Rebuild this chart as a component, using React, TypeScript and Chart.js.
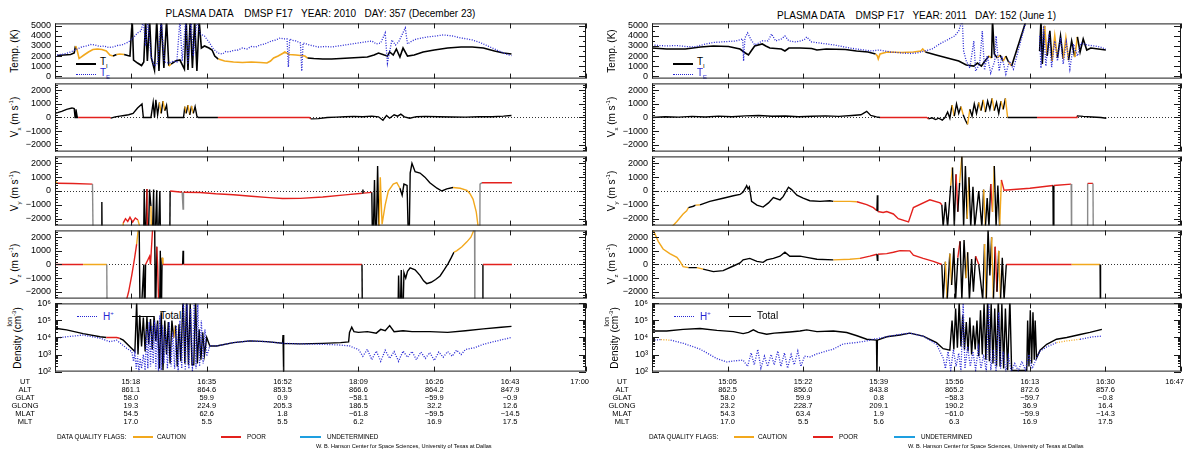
import React, { useEffect, useRef } from "react";
import { Chart, registerables } from "chart.js";

Chart.register(...registerables);

// ---- data (time in minutes from the left frame edge; flag 0=good 1=caution 2=poor 3=grey) ----

type P3 = [number, number | null, number];
type P2 = [number, number | null];

const L_UT = ["15:18", "16:35", "16:52", "18:09", "16:26", "16:43", "17:00"];
const L_ALT = ["861.1", "864.6", "853.5", "866.6", "864.2", "847.9"];
const L_GLAT = ["58.0", "59.9", "0.9", "\u221258.1", "\u221259.9", "\u22120.9"];
const L_GLONG = ["19.3", "224.9", "205.3", "186.5", "32.2", "12.6"];
const L_MLAT = ["54.5", "62.6", "1.8", "\u221261.8", "\u221259.5", "\u221214.5"];
const L_MLT = ["17.0", "5.5", "5.5", "6.2", "16.9", "17.5"];

const R_UT = ["15:05", "15:22", "15:39", "15:56", "16:13", "16:30", "16:47"];
const R_ALT = ["862.5", "856.0", "843.8", "865.2", "872.6", "857.6"];
const R_GLAT = ["58.0", "59.9", "0.8", "\u221258.3", "\u221259.7", "\u22120.8"];
const R_GLONG = ["23.2", "228.7", "209.1", "190.2", "36.9", "16.4"];
const R_MLAT = ["54.3", "63.4", "1.9", "\u221261.0", "\u221259.9", "\u221214.3"];
const R_MLT = ["17.0", "5.5", "5.6", "6.3", "16.9", "17.5"];

const ROW_NAMES = ["UT", "ALT", "GLAT", "GLONG", "MLAT", "MLT"];
const TIME_TICKS = [0, 17, 34, 51, 68, 85, 102, 119];
const TEMP_TICKS = [0, 1000, 2000, 3000, 4000, 5000];
const VEL_TICKS = [-2000, -1000, 0, 1000, 2000];
const DEN_TICKS = [1e2, 1e3, 1e4, 1e5, 1e6];

// Left orbit: 2010 day 357
const L_TI: P3[] = [
  [0.5, 2050, 0], [2, 2100, 0], [3.5, 2150, 0], [4.3, 2300, 0], [4.6, 3000, 1], [4.9, 2700, 1], [5.4, 1750, 1],
  [6.5, 2100, 1], [7.5, 2400, 1], [8.5, 2650, 1], [9.5, 2700, 1], [10.5, 2650, 1], [11.5, 2500, 1], [12.3, 2100, 1],
  [13, 2000, 0], [13.8, 2150, 1], [14.5, 2200, 1], [15.5, 2150, 0], [16.3, 2050, 0], [16.8, 2000, 0], [17.3, 5600, 0],
  [17.6, 1600, 0], [18.5, 1300, 0], [19.4, 1050, 0], [19.9, 1400, 0], [20.3, 5600, 0], [20.7, 1500, 0], [21.2, 5600, 0],
  [21.6, 1800, 0], [22.3, 600, 0], [22.8, 5600, 0], [23.3, 500, 0], [23.8, 5600, 0], [24.4, 800, 0], [25, 5600, 0],
  [25.5, 1000, 1], [26, 1200, 0], [27, 1500, 0], [28, 1600, 0], [29, 700, 0], [29.4, 5600, 0], [29.8, 600, 0],
  [30.3, 5600, 0], [30.8, 800, 0], [31.3, 5600, 0], [31.8, 500, 0], [32.3, 5600, 0], [32.8, 2800, 0], [33.5, 3000, 0],
  [34.5, 2800, 0], [35.2, 2600, 0], [35.8, 2000, 0], [36.6, 1700, 1], [38, 1500, 1], [40, 1400, 1], [42, 1350, 1],
  [44, 1400, 1], [46, 1350, 1], [47.5, 1300, 1], [48.3, 1500, 1], [49, 1800, 1], [50, 2000, 1], [51, 2250, 1],
  [51.5, 2400, 1], [52.5, 2150, 1], [54, 2100, 1], [55, 2050, 1], [56, 2000, 1], [56.6, 1800, 0], [58, 1750, 0],
  [60, 1700, 0], [62, 1700, 0], [64, 1750, 0], [66, 1800, 0], [68, 1850, 0], [70, 1900, 0], [71.5, 2100, 0],
  [72.5, 2300, 0], [73.8, 2100, 0], [74.5, 2000, 0], [75, 2400, 0], [75.8, 2100, 0], [76.5, 2700, 0], [77.3, 1900, 0],
  [78, 2800, 0], [79, 2000, 0], [80.5, 2100, 0], [82.5, 2400, 0], [85, 2600, 0], [88, 2800, 0], [91, 2900, 0],
  [93.5, 2900, 0], [96, 2800, 0], [98.5, 2500, 0], [100.5, 2300, 0], [102.3, 2200, 0],
];

const L_TE: P2[] = [
  [0.5, 2100], [2, 2200], [3.5, 2400], [5, 2700], [6, 2900], [7, 3000], [8, 3150], [9, 3100], [10, 2950],
  [11, 3000], [12, 2850], [13, 2900], [14, 3050], [15, 3100], [16.5, 3400], [17.5, 3800], [18.5, 4300],
  [19.3, 4500], [19.8, 5600], [20.3, 3000], [20.8, 5600], [21.5, 2000], [22.3, 1000], [23, 1300], [23.8, 5600],
  [24.5, 1400], [25.5, 1300], [26.5, 1500], [27.3, 1400], [28, 5600], [28.5, 1500], [29.3, 5600], [29.8, 1200],
  [30.5, 5600], [31, 2000], [31.8, 5600], [32.5, 4200], [33.5, 4000], [34.5, 3400], [35.5, 2700], [36.5, 2300],
  [37.5, 2200], [38.3, 2450], [39, 2400], [40, 2550], [41, 2600], [42, 2800], [43, 2700], [44, 2950], [45, 2900],
  [46, 3100], [47, 3200], [48.5, 3500], [49.5, 3600], [50.5, 3800], [51.3, 3700], [52, 3700], [52.3, 900],
  [52.6, 3700], [53.3, 3550], [54, 3500], [55, 3300], [55.3, 500], [55.6, 3300], [56.3, 3200], [57, 3100],
  [58, 3000], [59, 2900], [60.5, 2950], [62, 2900], [63.5, 3000], [65, 3100], [66.5, 3200], [68, 3300],
  [69.5, 3400], [71, 3500], [72, 3200], [73, 3300], [74, 4300], [74.5, 1300], [75.5, 3600], [76.3, 3100],
  [77, 3400], [78.5, 4800], [79, 3200], [80, 3500], [81, 3700], [82.3, 3800], [83.5, 3900], [84.5, 3950],
  [85.5, 4000], [87, 4100], [88, 4050], [89, 4000], [90, 3900], [91, 3800], [92.3, 3700], [93.5, 3600],
  [94.5, 3450], [95.5, 3300], [96.5, 3100], [97.5, 2900], [98.5, 2700], [99.5, 2500], [100.3, 2350], [101, 2200],
  [102.3, 2050],
];

const L_VX: P3[] = [
  [0, 300, 0], [1.5, 450, 0], [2.6, 600, 0], [3.8, 700, 0], [4.3, 650, 0], [4.5, 0, 0], [4.7, 600, 0], [5, 0, 0],
  [5.2, 0, 2], [12.3, 0, 2], [12.5, -50, 0], [13.5, 50, 0], [14.5, 100, 0], [15.5, 150, 0], [16.5, 200, 0],
  [17.5, 300, 0], [18.5, 700, 0], [19.5, 1000, 0], [19.8, 0, 0], [21.5, 0, 0], [22, 1100, 0], [22.3, 0, 0],
  [22.6, 1300, 0], [23, 200, 0], [23.4, 1100, 1], [23.8, 300, 0], [24.2, 1200, 1], [24.6, 500, 0], [25, 900, 0],
  [25.3, 0, 0], [28.8, 0, 0], [29.1, 800, 1], [29.4, 300, 0], [29.8, 900, 1], [30.2, 200, 0], [30.6, 850, 1],
  [31, 300, 0], [31.4, 800, 0], [31.8, 100, 0], [32.1, 0, 0], [36.3, 0, 0], [36.5, 0, 2], [57, 0, 2],
  [57.3, -100, 0], [59, -80, 0], [61, 0, 0], [63, 30, 0], [65, 50, 0], [67, 80, 0], [69, 60, 0], [71, 100, 0],
  [72.5, 50, 0], [73.5, -200, 0], [74.3, 150, 0], [75, -50, 0], [76, 200, 0], [76.8, 100, 0], [77.5, 250, 0],
  [78.3, 50, 0], [79.5, -50, 0], [81, 60, 0], [83, 80, 0], [86, 50, 0], [89, 40, 0], [92, 30, 0], [95, 50, 0],
  [98, 60, 0], [100.5, 100, 0], [102.3, 150, 0],
];

const L_VY: P3[] = [
  [0, 750, 1], [0.5, 560, 2], [4, 540, 2], [8.4, 500, 3], [8.6, -5000, 3], [9, null, 0],
  [10.4, -5000, 0], [10.5, -800, 0], [10.6, -5000, 0], [11, null, 0],
  [15, -5000, 1], [15.3, -2300, 2], [15.8, -2000, 2], [16.3, -2200, 2], [16.8, -1900, 2], [17.4, -2250, 2],
  [18, -1950, 2], [18.6, -2100, 1], [19, -2600, 1], [19.3, null, 0],
  [19.8, -5000, 0], [20, 150, 0], [20.2, -5000, 0], [20.6, 150, 2], [20.8, -5000, 0], [21.2, 100, 0],
  [21.5, -1100, 1], [21.7, -5000, 0], [22.1, 100, 0], [22.3, -5000, 0], [22.8, 50, 0], [23, -5000, 0],
  [23.5, 0, 0], [23.7, -5000, 0], [24, null, 0],
  [25.7, -5000, 0], [25.8, 0, 2], [28.5, -90, 3], [28.7, -1300, 3], [28.8, -95, 2], [32.5, -110, 2],
  [36, -200, 2], [40, -270, 2], [44, -380, 2], [48, -480, 2], [51, -545, 2], [55, -530, 2], [60, -430, 2],
  [65, -280, 2], [68.9, -160, 0], [69, 100, 0], [69.1, -150, 2], [71, -100, 0], [71.2, -5000, 0], [71.6, 800, 0],
  [71.9, -5000, 0], [72.3, 1800, 0], [72.6, -3000, 1], [72.9, 1000, 1], [73.3, -2400, 1], [74, -1000, 1],
  [74.7, 0, 1], [75.8, 500, 1], [76.6, 600, 1], [77.3, 200, 0], [77.8, -300, 0], [78.2, 500, 0], [78.9, 400, 0],
  [79.3, -5000, 0], [79.6, 1300, 0], [80, 2000, 0], [80.7, 1400, 0], [81.8, 1300, 0], [82.9, 1000, 0],
  [84, 600, 0], [85.6, 200, 0], [86.7, 0, 0], [87.8, 150, 0], [89.2, 250, 1], [90.8, 200, 1], [92.3, 50, 1],
  [93, -200, 1], [93.7, -600, 1], [94.4, -1500, 1], [94.8, -2500, 1], [95, -5000, 0], [95.1, null, 0],
  [95.2, -5000, 3], [95.25, 500, 3], [95.7, 600, 2], [102.4, 600, 2],
];

const L_VZ: P3[] = [
  [0, 0, 2], [6.3, 0, 1], [11.6, 0, 3], [11.7, -5000, 3], [12, null, 0],
  [15.5, -5000, 2], [15.7, -3000, 2], [16.5, -2000, 2], [17.2, -800, 2], [17.8, 400, 2], [18.3, 1500, 1],
  [18.6, 2400, 1], [18.8, 5000, 0], [19.1, -5000, 0], [19.9, 0, 0], [20.1, -5000, 0], [20.3, 0, 2],
  [21.2, 600, 2], [21.4, 0, 2], [22.3, 5000, 0], [22.5, -5000, 0], [22.8, 1300, 2], [23, 0, 2],
  [23.4, -5000, 0], [23.6, 1000, 0], [23.8, -5000, 0], [24, 500, 1], [24.2, 0, 2], [28.6, 0, 0],
  [28.7, 1000, 0], [28.8, 0, 2], [68.8, 0, 0], [68.9, -5000, 0], [69.2, null, 0],
  [76.8, -5000, 0], [77, -800, 0], [77.3, -5000, 0], [77.6, -400, 0], [77.9, -5000, 0], [78.2, -600, 0],
  [78.6, -1000, 0], [79, -500, 0], [79.6, -250, 0], [80.7, -390, 0], [81.8, -800, 0], [82.6, -1200, 0],
  [83.3, -1400, 0], [84.3, -1300, 0], [85.3, -1100, 0], [86.3, -840, 0], [87.2, -400, 0], [88.1, 70, 0],
  [88.8, 500, 0], [89.4, 900, 1], [90, 1000, 1], [91.2, 1300, 1], [92.3, 1660, 1], [93.2, 2000, 1],
  [93.8, 2450, 3], [94, 6000, 3], [94.1, -6000, 0], [95.8, -6000, 0], [95.9, 0, 2], [102.4, 0, 2],
];

const L_TOT: P3[] = [
  [0, 3.5e4, 0], [2.6, 2.8e4, 0], [6.3, 1.7e4, 0], [10.1, 1.1e4, 0], [11.5, 1e4, 2], [13.8, 1e4, 2],
  [14.5, 9e3, 0], [15.3, 7e3, 0], [16.8, 2.9e3, 0], [17.9, 1.5e3, 0], [18.3, 1.2e6, 0], [18.6, 1e3, 0],
  [19, 2e5, 0], [19.4, 3e3, 0], [19.8, 1.5e5, 0], [20.2, 1.5e3, 0], [20.6, 1.6e5, 0], [21, 4e3, 0],
  [21.4, 1.2e5, 0], [21.8, 2e3, 0], [22.2, 1.8e5, 0], [22.6, 6e3, 0], [23, 1e5, 0], [23.4, 150, 0],
  [23.8, 3e5, 0], [24.2, 120, 0], [24.6, 1e5, 0], [25, 1e3, 0], [25.4, 8e4, 0], [25.8, 300, 0],
  [26.2, 1e5, 0], [26.6, 1e4, 1], [27, 5e4, 0], [27.4, 200, 0], [27.8, 6e4, 0], [28.2, 400, 0],
  [28.7, 2e6, 0], [29.1, 300, 0], [29.5, 2e6, 0], [29.9, 250, 0], [30.3, 1e6, 0], [30.7, 250, 0],
  [31.1, 250, 0], [31.5, 2e6, 0], [31.9, 300, 0], [32.3, 3e4, 0], [32.7, 500, 0], [33.1, 2e4, 0],
  [33.5, 1e3, 0], [34, 1e4, 0], [34.7, 3.2e3, 0], [36.2, 3.2e3, 0], [40, 5e3, 0], [43.7, 6.3e3, 0],
  [47.4, 5.7e3, 0], [51, 4.6e3, 0], [51.1, 1.4e4, 0], [51.2, 50, 0], [51.3, 4.5e3, 0], [54.9, 4.2e3, 0],
  [60, 4.5e3, 0], [64, 5e3, 0], [65.8, 5.5e3, 0], [66, 2e4, 0], [66.5, 4e4, 0], [67, 2.2e4, 0],
  [68, 2e4, 0], [70, 2.2e4, 0], [72, 1.8e4, 0], [73, 3e4, 0], [74, 2.5e4, 0], [75, 5e4, 0], [76, 2.2e4, 0],
  [78, 2.5e4, 0], [80, 2.2e4, 0], [84, 2.2e4, 0], [88, 2e4, 0], [92, 2.5e4, 0], [96, 3.2e4, 0],
  [100, 4e4, 0], [102.3, 4.5e4, 0],
];

const L_HP: P3[] = [
  [0, 9e3, 0], [2.6, 1.1e4, 0], [6.3, 1.4e4, 0], [10.1, 9e3, 0], [12.3, 5.7e3, 0], [13.8, 7e3, 0],
  [16.1, 2.3e3, 0], [17.2, 1.5e3, 0], [17.6, 400, 0], [17.9, 1.2e3, 0], [18.2, 150, 0], [18.5, 800, 0],
  [18.8, 100, 0], [19.1, 600, 0], [19.4, 150, 0], [19.8, 1e3, 0], [20.2, 120, 0], [20.5, 3e4, 0],
  [20.8, 150, 0], [21.1, 8e4, 0], [21.4, 200, 0], [21.7, 5e4, 0], [22, 300, 0], [22.3, 1e5, 0],
  [22.6, 150, 0], [22.9, 6e4, 0], [23.2, 100, 0], [23.5, 2e5, 0], [23.8, 120, 0], [24.1, 5e4, 0],
  [24.4, 300, 0], [24.8, 3e4, 0], [25.2, 150, 0], [25.6, 8e4, 0], [26, 200, 0], [26.4, 2e4, 0],
  [26.8, 150, 0], [27.2, 5e4, 0], [27.6, 100, 0], [28, 1e5, 0], [28.4, 150, 0], [28.8, 2e6, 0],
  [29.2, 120, 0], [29.6, 1e6, 0], [30, 150, 0], [30.4, 5e5, 0], [30.8, 100, 0], [31.2, 2e6, 0],
  [31.6, 150, 0], [32, 1e6, 0], [32.4, 200, 0], [32.8, 1e5, 0], [33.2, 300, 0], [33.6, 3e4, 0],
  [34, 800, 0], [34.7, 3.2e3, 0], [36.2, 3.2e3, 0], [40, 5e3, 0], [43.7, 6.3e3, 0], [47.4, 5.7e3, 0],
  [51, 4.6e3, 0], [54.9, 4.2e3, 0], [60, 4e3, 0], [64, 3.6e3, 0], [66, 3.2e3, 0], [67, 2.5e3, 0],
  [68, 2e3, 0], [69, 800, 0], [70, 2e3, 0], [71, 500, 0], [72, 1.6e3, 0], [73, 400, 0], [74, 1.8e3, 0],
  [75, 600, 0], [76, 1.5e3, 0], [77, 400, 0], [78, 1.6e3, 0], [79, 700, 0], [80, 1.5e3, 0], [81, 500, 0],
  [82, 1.4e3, 0], [83, 600, 0], [84, 1.3e3, 0], [85, 450, 0], [86, 1.4e3, 0], [87, 700, 0], [88, 1.5e3, 0],
  [89, 800, 0], [90, 1.8e3, 0], [91, 1e3, 0], [92, 2e3, 0], [94, 2.5e3, 0], [96, 4e3, 0], [99, 6.3e3, 0],
  [102.3, 1e4, 0],
];

// Right orbit: 2011 day 152
const R_TI: P3[] = [
  [0, 2800, 0], [3.3, 2700, 0], [7.5, 2700, 0], [10.9, 2900, 0], [13.8, 3000, 0], [17.2, 2950, 0],
  [19.8, 2700, 0], [21, 2300, 0], [21.7, 2100, 0], [22.3, 2500, 0], [23.1, 3000, 0], [24.8, 3200, 0],
  [25.6, 3000, 0], [26.5, 2800, 0], [29.1, 2700, 0], [29.9, 2500, 0], [30.8, 2800, 0], [33.3, 2800, 0],
  [35.9, 2750, 0], [37.1, 2600, 0], [39.2, 2700, 0], [43.5, 2650, 0], [46, 2500, 0], [48.6, 2400, 0],
  [50.3, 2200, 1], [50.7, 2000, 1], [50.9, 1700, 1], [51.3, 2200, 1], [52.9, 2400, 1], [56.2, 2350, 1],
  [58.8, 2400, 1], [60.5, 2500, 1], [60.9, 2700, 1], [61.5, 2400, 0], [63.9, 2100, 0], [65.6, 1900, 0],
  [67.3, 1700, 0], [69, 1500, 0], [70.7, 1100, 0], [72.4, 1000, 0], [73.2, 1300, 0], [74.1, 1000, 0],
  [74.9, 1500, 0], [75.8, 2000, 1], [76.4, 1800, 0], [76.6, 5600, 0], [77, 2200, 0], [77.7, 1800, 1],
  [78.3, 2100, 0], [79, 1500, 1], [79.6, 2000, 0], [80.2, 1400, 1], [80.9, 1000, 0], [84.2, 5600, 0],
  [85, null, 0],
  [87.2, 2500, 0], [87.5, 5600, 0], [87.8, 1200, 0], [88.3, 5000, 1], [88.9, 2000, 0], [89.5, 4500, 0],
  [90, 1500, 1], [90.6, 4000, 1], [91.2, 1800, 0], [91.9, 4000, 0], [92.5, 1700, 1], [93.1, 3800, 1],
  [93.7, 1600, 0], [94.4, 3500, 0], [95.1, 1900, 1], [95.7, 3900, 0], [96.3, 2400, 0], [97, 3700, 0],
  [97.8, 2600, 0], [98.7, 2800, 0], [100.4, 2700, 0], [102.1, 2600, 0],
];

const R_TE: P2[] = [
  [0, 3100], [1.5, 3050], [3.3, 3000], [5.5, 3050], [7.5, 2950], [9.5, 2900], [12.1, 3200], [13.8, 3350],
  [15.5, 3400], [17.2, 3450], [18.9, 3500], [20.4, 3700], [20.6, 1500], [20.9, 3800], [21.5, 4300], [22.3, 3600],
  [23.1, 3100], [24, 3300], [24.8, 3500], [26.1, 3500], [26.9, 4200], [27.8, 3500], [29.1, 3700], [29.9, 4000],
  [30.8, 3500], [32.4, 3400], [34.2, 3600], [34.8, 3900], [35.9, 3400], [37.6, 3300], [39.3, 3200], [41, 3100],
  [42.7, 2950], [44.4, 2800], [46, 2700], [47.7, 2600], [49.4, 2500], [51.1, 2600], [52.4, 2500], [53.7, 2400],
  [55, 2350], [56.2, 2300], [58, 2250], [59.6, 2300], [61.3, 2500], [63, 2700], [64.7, 3200], [66.4, 3600],
  [68.1, 4000], [69, 4500], [69.8, 5600], [70.1, 2500], [70.7, 1500], [71.5, 800], [72.4, 3500], [72.8, 500],
  [73.7, 1200], [74.3, 4500], [74.8, 600], [75.4, 2000], [76.2, 300], [77.1, 1500], [77.4, 4000], [78.1, 500],
  [78.7, 2000], [79.6, 200], [80.4, 1500], [81.3, 700], [84.2, 5600], [85, null],
  [87.2, 4000], [87.5, 800], [88.1, 5000], [88.6, 1000], [89.3, 4200], [89.9, 900], [90.6, 3500],
  [91.2, 1500], [91.9, 3800], [92.5, 1200], [93.2, 3400], [94, 700], [94.8, 3200], [95.7, 2000],
  [96.5, 3300], [97.8, 3100], [99.5, 3000], [100.8, 2900], [102.1, 2700],
];

const R_VX: P3[] = [
  [0, 0, 0], [3, 60, 0], [6, 30, 0], [9, 80, 0], [12, 40, 0], [15, 100, 0], [18, 60, 0], [21, 120, 0],
  [24, 150, 0], [27, 90, 0], [30, 110, 0], [33, 60, 0], [36, 90, 0], [39, 120, 0], [42, 80, 0], [45, 150, 0],
  [47, 200, 0], [48.3, 450, 0], [49.2, 150, 0], [50.5, 50, 0], [51.3, 0, 2], [61.8, 0, 2], [62.2, -100, 0],
  [63, -20, 0], [63.8, -150, 0], [64.5, -50, 0], [65.3, -200, 0], [65.9, 0, 0], [66.5, 400, 0], [67, -50, 0],
  [67.5, 900, 1], [68, 100, 0], [68.5, 1000, 0], [69, 300, 0], [69.5, 800, 1], [70, 200, 0], [70.5, -200, 0],
  [71, -500, 1], [71.5, 600, 0], [72, 100, 0], [72.5, 1000, 0], [73, 300, 0], [73.5, 1100, 1], [74, 500, 0],
  [74.5, 1300, 1], [75, 400, 0], [75.5, 1200, 0], [76, 600, 0], [76.5, 1400, 1], [77, 500, 0], [77.5, 1100, 0],
  [78, 300, 0], [78.5, 1200, 1], [79, 600, 0], [79.5, 1400, 1], [80, 0, 0], [85.8, 0, 0], [86.6, 0, 2],
  [95.5, 0, 2], [95.6, 120, 0], [97, 80, 0], [99, 40, 0], [101, 0, 0], [102.2, -50, 0],
];

const R_VY: P3[] = [
  [0, 600, 0], [0.1, -5000, 0], [0.3, null, 0],
  [3.8, -3000, 1], [4, -2750, 1], [5.6, -2200, 1], [7, -1660, 1], [7.8, -1430, 1], [8.2, -1200, 0],
  [9.3, -1100, 0], [9.8, -1020, 1], [10.8, -1000, 0], [13, -750, 0], [16, -520, 0], [18.3, -340, 0],
  [19.8, -250, 0], [20.5, -70, 0], [21, 200, 0], [21.3, 390, 0], [21.6, 150, 0], [21.9, 300, 0],
  [22.4, -750, 0], [23.6, -1020, 0], [25, -1160, 0], [26.2, -860, 0], [27.3, -480, 0], [28.8, -640, 0],
  [29.5, -410, 0], [30.7, 270, 0], [31.4, 100, 0], [32.6, -300, 0], [34, -520, 0], [35.5, -700, 0],
  [37.8, -750, 0], [40, -700, 0], [40.8, -750, 1], [44.5, -750, 1], [46.1, -780, 2], [48.3, -980, 2],
  [49.8, -1200, 2], [50.6, -1430, 0], [50.7, -300, 0], [50.8, -1480, 2], [52, -1550, 2], [52.8, -1480, 2],
  [54.3, -1660, 2], [55.4, -2000, 2], [57.7, -2230, 2], [58.8, -1200, 2], [62.5, -640, 2], [64.8, -860, 2],
  [65.2, -1000, 0], [65.5, -2600, 0], [66, -800, 0], [66.5, -2600, 0], [67.2, 400, 1], [67.6, 1700, 0],
  [68, -2600, 0], [68.4, 1200, 2], [68.8, -1500, 0], [69.2, 600, 1], [69.7, 2500, 0], [70.1, -2600, 0],
  [70.5, 1800, 0], [70.9, -2000, 1], [71.3, 1000, 0], [71.7, -2600, 0], [72.2, 300, 0], [72.6, -2600, 0],
  [73.5, 0, 0], [74.2, -2600, 0], [74.6, 100, 1], [75, -2600, 0], [75.4, -500, 0], [75.8, -2600, 0],
  [76.2, 500, 2], [76.6, -1500, 1], [77, 1800, 0], [77.4, -2600, 0], [77.8, 400, 0], [78.2, -2600, 1],
  [78.6, 800, 2], [79.2, 50, 2], [85, 200, 2], [90.2, 400, 0], [90.3, -5000, 0], [90.4, 400, 2],
  [94.3, 500, 3], [94.4, -5000, 3], [94.6, null, 0],
  [97.9, -5000, 3], [98, 550, 2], [99.2, 550, 3], [99.3, -5000, 3],
];

const R_VZ: P3[] = [
  [0, 3200, 1], [0.3, 2500, 1], [1.4, 1700, 1], [2.5, 1140, 1], [4, 800, 1], [5.6, 520, 1], [6.3, 230, 1],
  [7, -160, 1], [8.2, -230, 0], [10.1, -230, 1], [11.5, -340, 0], [13.8, -520, 0], [16, -450, 0],
  [18.3, -110, 0], [19.8, 110, 0], [20.5, 340, 0], [22, 450, 0], [23.6, 230, 0], [25, 160, 0],
  [25.8, 340, 0], [27.3, 450, 0], [28.8, 610, 0], [29.9, 900, 0], [31, 610, 0], [33.3, 610, 0],
  [34.8, 520, 0], [37.1, 390, 0], [40.8, 340, 1], [44.5, 390, 1], [46.8, 450, 2], [49, 610, 2],
  [50.6, 750, 0], [50.7, 300, 0], [50.8, 750, 2], [52.8, 800, 2], [54.3, 900, 2], [55.8, 1020, 2],
  [58, 1000, 2], [58.8, 680, 2], [61, 450, 2], [63.3, 230, 2], [65.2, 0, 0], [65.5, -2600, 0],
  [66, 200, 1], [66.4, -2600, 0], [67, 800, 1], [67.4, -1500, 0], [67.9, 1200, 0], [68.3, -2600, 0],
  [68.8, 500, 2], [69.3, 1700, 0], [69.7, -2600, 0], [70.2, 1800, 0], [70.6, -1000, 1], [71, 900, 0],
  [71.4, -2600, 0], [71.9, 400, 0], [72.3, -2000, 0], [72.8, 600, 2], [73.5, 0, 0], [74.4, -2600, 0],
  [74.8, 1500, 1], [75.2, -2600, 0], [75.6, 2600, 0], [76, -800, 0], [76.4, 2000, 1], [76.8, -2600, 0],
  [77.2, 1300, 2], [77.6, -2000, 0], [78, 1000, 1], [78.4, -2600, 0], [78.8, 500, 0], [79.2, -2600, 0],
  [79.7, 0, 2], [94.4, 0, 1], [100.8, 0, 0], [100.9, -5000, 0],
];

const R_TOT: P3[] = [
  [0, 2.4e4, 0], [3.3, 2.4e4, 0], [7, 3e4, 0], [10.8, 3.4e4, 0], [14.6, 2.6e4, 0], [18.3, 2.2e4, 0],
  [20.5, 1.7e4, 0], [21.7, 2e4, 0], [22.8, 2.8e4, 0], [23.9, 2e4, 0], [25.8, 1.55e4, 0], [27.5, 1.8e4, 0],
  [29.5, 1.95e4, 0], [31, 2.1e4, 0], [33.3, 2.4e4, 0], [34.8, 2.8e4, 0], [37.1, 2.2e4, 0], [40.8, 2.4e4, 0],
  [43.8, 1.95e4, 0], [46.1, 1.26e4, 0], [48.3, 7.9e3, 0], [50.5, 7e3, 0], [50.6, 50, 0], [50.7, 7e3, 0],
  [52.8, 1.1e4, 0], [55.8, 1.4e4, 0], [58, 1.8e4, 0], [61, 1.2e4, 0], [64, 5e3, 0], [65.5, 2.2e3, 0],
  [67, 1.8e3, 0], [67.5, 1e5, 0], [67.9, 2e3, 0], [68.3, 5e5, 0], [68.7, 2.5e3, 0], [69.1, 1.2e6, 0],
  [69.5, 3e3, 0], [69.9, 2e5, 0], [70.3, 2e3, 0], [70.7, 8e4, 0], [71.1, 1.5e3, 0], [71.5, 1.5e5, 0],
  [71.9, 1e3, 0], [72.3, 5e4, 0], [72.7, 2e3, 0], [73.1, 1e5, 0], [73.5, 800, 0], [73.9, 4e5, 0],
  [74.3, 1e3, 0], [74.7, 1e6, 0], [75.1, 500, 0], [75.5, 2e6, 0], [75.9, 400, 0], [76.3, 1e6, 0],
  [76.7, 300, 0], [77.1, 5e5, 0], [77.5, 200, 0], [77.9, 2e6, 0], [78.3, 200, 0], [78.7, 1e6, 0],
  [79.1, 150, 0], [79.5, 5e5, 0], [80, 120, 0], [80.5, 2e6, 0], [80.9, 115, 0], [84.3, 115, 0],
  [84.5, 1e5, 0], [84.8, 200, 0], [85.1, 4e5, 0], [85.4, 300, 0], [85.7, 3e5, 0], [86, 500, 0],
  [86.2, 1e5, 0], [86.5, 630, 0], [87.3, 1.8e3, 0], [88.8, 4e3, 0], [91, 7.9e3, 0], [93.3, 1e4, 0],
  [96.3, 1.5e4, 0], [98.5, 2e4, 0], [101.2, 3e4, 0],
];

const R_HP: P3[] = [
  [0, 7e3, 0], [2, 7.5e3, 1], [4, 7e3, 1], [4.2, 7e3, 0], [7, 4.6e3, 0], [10.8, 2.1e3, 0], [14.6, 575, 0],
  [16.8, 370, 0], [18.3, 420, 0], [20.5, 470, 0], [21.5, 200, 0], [22.3, 1.26e3, 0], [23, 250, 0],
  [23.8, 2e3, 0], [24.5, 160, 0], [25.3, 800, 0], [26, 200, 0], [26.8, 1e3, 0], [27.5, 250, 0],
  [28.3, 1.6e3, 0], [29, 200, 0], [29.8, 1.26e3, 0], [30.5, 160, 0], [31.3, 1e3, 0], [32, 250, 0],
  [32.8, 1.6e3, 0], [33.5, 200, 0], [34.3, 800, 0], [35.5, 720, 0], [37.1, 1.1e3, 0], [40.8, 2.1e3, 0],
  [43, 4.2e3, 0], [46.1, 5.1e3, 0], [48.3, 6.3e3, 0], [49.8, 7.9e3, 0], [52, 1e4, 0], [55.8, 1.55e4, 0],
  [58, 1.8e4, 0], [61, 1.2e4, 0], [64, 4e3, 0], [65.5, 630, 0], [66, 150, 0], [66.6, 1.5e3, 0],
  [67.2, 120, 0], [67.8, 2e3, 0], [68.4, 200, 0], [69, 1.2e3, 0], [69.5, 100, 0], [70, 1e6, 0],
  [70.4, 150, 0], [71, 3e3, 0], [71.6, 200, 0], [72.2, 1.5e3, 0], [72.8, 120, 0], [73.4, 2.5e3, 0],
  [74, 150, 0], [74.6, 1e3, 0], [75.2, 100, 0], [75.8, 1e6, 0], [76.2, 120, 0], [76.8, 2e3, 0],
  [77.4, 100, 0], [78, 3e5, 0], [78.4, 150, 0], [79, 1.5e3, 0], [79.6, 100, 0], [80.2, 800, 0],
  [80.8, 100, 0], [81.6, 300, 0], [82.4, 110, 0], [83.2, 400, 0], [84, 120, 0], [84.8, 1e3, 0],
  [85.5, 150, 0], [86.5, 600, 0], [87.3, 1.6e3, 0], [88.8, 2.8e3, 0], [91, 5e3, 1], [93.3, 6.3e3, 1],
  [96.3, 7.9e3, 0], [99.2, 1.1e4, 0], [101.2, 1.2e4, 0],
];

// ---- drawing ----

const FONT = '"Liberation Sans", Arial, Helvetica, sans-serif';
const FLAG_COLORS = ["#000000", "#f2a81d", "#e3211d", "#8a8a8a"];
const UNDET_BLUE = "#1e9fe0";
const BLUE = "#2626d4";

const ROW_Y = {
  temp: [21, 81],
  vx: [81, 154],
  vy: [154, 228],
  vz: [228, 301],
  den: [301, 374],
};

const SUP: Record<string, string> = { "2": "\u00b2", "3": "\u00b3", "4": "\u2074", "5": "\u2075", "6": "\u2076" };

type Kind = "temp" | "vel" | "den";

function axisSpec(kind: Kind) {
  if (kind === "temp") {
    const minors: number[] = [];
    for (let v = 0; v <= 5000; v += 500) minors.push(v);
    return { type: "linear", min: -250, max: 5250, majors: TEMP_TICKS, minors, label: (v: number) => String(v) };
  }
  if (kind === "vel") {
    const minors: number[] = [];
    for (let v = -2400; v <= 2400; v += 200) minors.push(v);
    return {
      type: "linear", min: -2500, max: 2500, majors: VEL_TICKS, minors,
      label: (v: number) => (v < 0 ? "\u2212" + Math.abs(v) : String(v)),
    };
  }
  const minors: number[] = [];
  for (let d = 2; d < 6; d++) for (let m = 2; m <= 9; m++) minors.push(m * Math.pow(10, d));
  return {
    type: "logarithmic", min: 1e2, max: 1e6, majors: DEN_TICKS, minors,
    label: (v: number) => "10" + SUP[String(Math.round(Math.log10(v)))],
  };
}

type Series = { pts: any[]; color: string; width?: number; dash?: number[]; flagged?: boolean };

function makeFramePlugin(spec: any, zero: boolean) {
  return {
    id: "frame",
    beforeDatasetsDraw(chart: any) {
      if (!zero) return;
      const { ctx, chartArea: a, scales } = chart;
      const y = Math.round(scales.y.getPixelForValue(0)) + 0.5;
      ctx.save();
      ctx.strokeStyle = "#333";
      ctx.lineWidth = 1;
      ctx.setLineDash([1, 2]);
      ctx.beginPath();
      ctx.moveTo(a.left, y);
      ctx.lineTo(a.right, y);
      ctx.stroke();
      ctx.restore();
    },
    afterDatasetsDraw(chart: any) {
      const { ctx, chartArea: a, scales } = chart;
      ctx.save();
      ctx.strokeStyle = "#1a1a1a";
      ctx.lineWidth = 1;
      ctx.setLineDash([]);
      ctx.strokeRect(a.left + 0.5, a.top + 0.5, a.right - a.left - 1, a.bottom - a.top - 1);
      ctx.beginPath();
      for (const m of TIME_TICKS) {
        const x = Math.round(scales.x.getPixelForValue(m)) + 0.5;
        ctx.moveTo(x, a.top);
        ctx.lineTo(x, a.top + 5);
        ctx.moveTo(x, a.bottom);
        ctx.lineTo(x, a.bottom - 5);
      }
      const tick = (v: number, len: number) => {
        const y = Math.round(scales.y.getPixelForValue(v)) + 0.5;
        ctx.moveTo(a.left, y);
        ctx.lineTo(a.left + len, y);
        ctx.moveTo(a.right, y);
        ctx.lineTo(a.right - len, y);
      };
      for (const v of spec.minors) tick(v, 3);
      for (const v of spec.majors) tick(v, 7);
      ctx.stroke();
      ctx.restore();
    },
  };
}

function SubPlot(props: { x0: number; x1: number; y0: number; y1: number; kind: Kind; series: Series[] }) {
  const { x0, x1, y0, y1, kind, series } = props;
  const ref = useRef<HTMLCanvasElement | null>(null);
  const w = x1 - x0 + 56;
  const h = y1 - y0 + 14;
  useEffect(() => {
    const spec: any = axisSpec(kind);
    const datasets = series.map((s) => ({
      data: s.pts.map((p: any) => ({ x: p[0], y: p[1] })),
      borderColor: s.color,
      borderWidth: s.width || 1.4,
      borderDash: s.dash || [],
      pointRadius: 0,
      tension: 0,
      spanGaps: false,
      segment: s.flagged
        ? {
            borderColor: (c: any) => {
              const f = s.pts[c.p0DataIndex][2];
              return f ? FLAG_COLORS[f] : s.color;
            },
          }
        : undefined,
    }));
    const chart = new Chart(ref.current as HTMLCanvasElement, {
      type: "line",
      data: { datasets },
      options: {
        animation: false,
        responsive: false,
        maintainAspectRatio: false,
        events: [],
        layout: { padding: { left: 0, right: 6, top: 7, bottom: 7 } },
        plugins: { legend: { display: false }, tooltip: { enabled: false } },
        scales: {
          x: { type: "linear", min: 0, max: 119, display: false },
          y: {
            type: spec.type,
            min: spec.min,
            max: spec.max,
            grid: { display: false, drawTicks: false },
            border: { display: false },
            afterFit: (s: any) => {
              s.width = 50;
            },
            afterBuildTicks: (s: any) => {
              s.ticks = spec.majors.map((v: number) => ({ value: v }));
            },
            ticks: {
              autoSkip: false,
              padding: 4,
              color: "#000",
              font: { family: FONT, size: 9 },
              callback: (v: any) => spec.label(Number(v)),
            },
          },
        },
      } as any,
      plugins: [makeFramePlugin(spec, kind === "vel")],
    });
    return () => chart.destroy();
  }, []);
  return (
    <canvas
      ref={ref}
      width={w}
      height={h}
      style={{ position: "absolute", left: x0 - 50, top: y0 - 7, width: w, height: h }}
    />
  );
}

function Txt(props: { x: number; y: number; size?: number; align?: "left" | "center" | "right"; color?: string; children: any }) {
  const { x, y, size = 9, align = "left", color = "#000", children } = props;
  const tx = align === "left" ? "0" : align === "center" ? "-50%" : "-100%";
  return (
    <div
      style={{
        position: "absolute",
        left: x,
        top: y,
        transform: `translate(${tx}, -50%)`,
        fontSize: size,
        lineHeight: 1,
        whiteSpace: "pre",
        color,
      }}
    >
      {children}
    </div>
  );
}

function VLabel(props: { x: number; y: number; size?: number; children: any }) {
  return (
    <div
      style={{
        position: "absolute",
        left: props.x,
        top: props.y,
        transform: "translate(-50%, -50%) rotate(-90deg)",
        fontSize: props.size || 10,
        lineHeight: 1,
        whiteSpace: "nowrap",
      }}
    >
      {props.children}
    </div>
  );
}

function Swatch(props: { x: number; y: number; w: number; color: string; dotted?: boolean; thick?: number }) {
  const t = props.thick || 1;
  return props.dotted ? (
    <div
      style={{
        position: "absolute", left: props.x, top: props.y - t / 2, width: props.w, height: 0,
        borderTop: `${t}px dotted ${props.color}`,
      }}
    />
  ) : (
    <div
      style={{
        position: "absolute", left: props.x, top: props.y - t / 2, width: props.w, height: t,
        background: props.color,
      }}
    />
  );
}

function Panel(props: {
  x0: number; x1: number; title: string; titleY: number; credX: number; flagX: number[];
  ti: P3[]; te: P2[]; vx: P3[]; vy: P3[]; vz: P3[]; tot: P3[]; hp: P3[];
  rows: string[][];
}) {
  const { x0, x1, ti, te, vx, vy, vz, tot, hp, rows } = props;
  const step = (x1 - x0) / 7;
  const cx = (x0 + x1) / 2;
  const lx = x0 - 30;
  const tableY = 382;
  const rowH = 7.9;
  const sub = { fontSize: 6 };
  return (
    <>
      <Txt x={cx} y={props.titleY} size={10} align="center">{props.title}</Txt>

      {/* in-panel legends, drawn beneath the data */}
      <Swatch x={x0 + 21} y={64} w={20} color="#000" thick={1.5} />
      <Txt x={x0 + 45} y={63} size={10}>T<sub style={sub}>I</sub></Txt>
      <Swatch x={x0 + 21} y={74} w={20} color={BLUE} dotted />
      <Txt x={x0 + 45} y={74} size={10} color={BLUE}>T<sub style={sub}>E</sub></Txt>
      <Swatch x={x0 + 22} y={316} w={20} color={BLUE} dotted />
      <Txt x={x0 + 48} y={316} size={10} color={BLUE}>H<sup style={sub}>+</sup></Txt>
      <Swatch x={x0 + 77} y={316} w={22} color="#000" />
      <Txt x={x0 + 105} y={316} size={10}>Total</Txt>

      <VLabel x={x0 - 40} y={51}>Temp. (K)</VLabel>
      <VLabel x={x0 - 40} y={117}>V<sub style={sub}>x</sub> (m s<sup style={sub}>-1</sup>)</VLabel>
      <VLabel x={x0 - 40} y={191}>V<sub style={sub}>y</sub> (m s<sup style={sub}>-1</sup>)</VLabel>
      <VLabel x={x0 - 40} y={264}>V<sub style={sub}>z</sub> (m s<sup style={sub}>-1</sup>)</VLabel>
      <VLabel x={x0 - 46} y={322} size={7}>Ion</VLabel>
      <VLabel x={x0 - 38} y={338}>Density (cm<sup style={sub}>-3</sup>)</VLabel>

      <SubPlot x0={x0} x1={x1} y0={ROW_Y.temp[0]} y1={ROW_Y.temp[1]} kind="temp"
        series={[{ pts: te, color: BLUE, dash: [1, 1.5], width: 1.3 }, { pts: ti, color: "#000", flagged: true, width: 1.6 }]} />
      <SubPlot x0={x0} x1={x1} y0={ROW_Y.vx[0]} y1={ROW_Y.vx[1]} kind="vel"
        series={[{ pts: vx, color: "#000", flagged: true }]} />
      <SubPlot x0={x0} x1={x1} y0={ROW_Y.vy[0]} y1={ROW_Y.vy[1]} kind="vel"
        series={[{ pts: vy, color: "#000", flagged: true }]} />
      <SubPlot x0={x0} x1={x1} y0={ROW_Y.vz[0]} y1={ROW_Y.vz[1]} kind="vel"
        series={[{ pts: vz, color: "#000", flagged: true }]} />
      <SubPlot x0={x0} x1={x1} y0={ROW_Y.den[0]} y1={ROW_Y.den[1]} kind="den"
        series={[{ pts: hp, color: BLUE, dash: [1, 1.5], width: 1.3, flagged: true }, { pts: tot, color: "#000", flagged: true }]} />

      {ROW_NAMES.map((n, i) => (
        <Txt key={n} x={lx} y={tableY + i * rowH} size={7.5} align="center">{n}</Txt>
      ))}
      {rows.map((col, r) =>
        col.map((v, k) =>
          k === 6 ? (
            <Txt key={r + "-" + k} x={x1 + 3} y={tableY + r * rowH} size={7.5} align="right">{v}</Txt>
          ) : (
            <Txt key={r + "-" + k} x={x0 + step * (k + 1)} y={tableY + r * rowH} size={7.5} align="center">{v}</Txt>
          )
        )
      )}

      <Txt x={props.flagX[0]} y={437} size={6.4}>DATA QUALITY FLAGS:</Txt>
      <Swatch x={props.flagX[1]} y={437} w={20} color={FLAG_COLORS[1]} thick={2} />
      <Txt x={props.flagX[1] + 24} y={437} size={6.4}>CAUTION</Txt>
      <Swatch x={props.flagX[2]} y={437} w={20} color={FLAG_COLORS[2]} thick={2} />
      <Txt x={props.flagX[2] + 26} y={437} size={6.4}>POOR</Txt>
      <Swatch x={props.flagX[3]} y={437} w={21} color={UNDET_BLUE} thick={2} />
      <Txt x={props.flagX[3] + 27} y={437} size={6.4}>UNDETERMINED</Txt>
      <Txt x={props.credX} y={447} size={5.6}>W. B. Hanson Center for Space Sciences, University of Texas at Dallas</Txt>
    </>
  );
}

export default function App() {
  useEffect(() => {
    document.body.style.margin = "0";
  }, []);
  return (
    <div
      style={{
        position: "absolute",
        left: 0,
        top: 0,
        width: 1188,
        height: 452,
        background: "#fff",
        overflow: "hidden",
        fontFamily: FONT,
        color: "#000",
      }}
    >
      <Panel
        x0={55}
        x1={586}
        title={"PLASMA DATA    DMSP F17   YEAR: 2010   DAY: 357 (December 23)"}
        titleY={14}
        credX={316}
        flagX={[57, 133, 221, 300]}
        ti={L_TI} te={L_TE} vx={L_VX} vy={L_VY} vz={L_VZ} tot={L_TOT} hp={L_HP}
        rows={[L_UT, L_ALT, L_GLAT, L_GLONG, L_MLAT, L_MLT]}
      />
      <Panel
        x0={652}
        x1={1181}
        title={"PLASMA DATA    DMSP F17   YEAR: 2011   DAY: 152 (June 1)"}
        titleY={16}
        credX={908}
        flagX={[649, 734, 813, 894]}
        ti={R_TI} te={R_TE} vx={R_VX} vy={R_VY} vz={R_VZ} tot={R_TOT} hp={R_HP}
        rows={[R_UT, R_ALT, R_GLAT, R_GLONG, R_MLAT, R_MLT]}
      />
    </div>
  );
}
